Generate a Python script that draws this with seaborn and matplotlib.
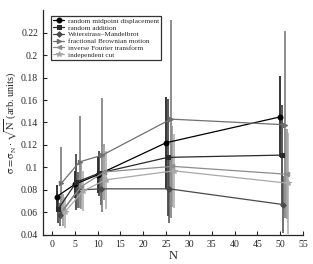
import matplotlib
matplotlib.use("Agg")
import matplotlib.pyplot as plt
import seaborn as sns
import pandas as pd
import numpy as np

sns.set_style("ticks")
plt.rcParams['font.family'] = ['Liberation Serif', 'DejaVu Serif']
plt.rcParams['mathtext.fontset'] = 'stix'

N = [1, 5, 10, 25, 50]
methods = ["random midpoint displacement", "random addition", "Weierstrass\u2013Mandelbrot",
           "fractional Brownian motion", "inverse Fourier transform", "independent cut"]
offsets = [0.0, 0.35, 0.7, 1.05, 1.4, 1.75]

rmd = [0.074, 0.085, 0.0935, 0.122, 0.145]
ra = [0.063, 0.087, 0.095, 0.109, 0.111]
wm = [0.058, 0.080, 0.081, 0.081, 0.067]
fbm = [0.086, 0.105, 0.111, 0.143, 0.138]
ift = [0.062, 0.083, 0.096, 0.101, 0.094]
ic = [0.060, 0.079, 0.089, 0.097, 0.086]

err_rmd = [0.010, 0.012, 0.016, 0.041, 0.036]
err_ra = [0.012, 0.025, 0.020, 0.052, 0.045]
err_wm = [0.010, 0.016, 0.014, 0.030, 0.025]
err_fbm = [0.032, 0.041, 0.051, 0.088, 0.083]
err_ift = [0.014, 0.020, 0.025, 0.036, 0.040]
err_ic = [0.014, 0.018, 0.026, 0.033, 0.045]

values = [rmd, ra, wm, fbm, ift, ic]
errors = [err_rmd, err_ra, err_wm, err_fbm, err_ift, err_ic]
colors = ["#000000", "#2a2a2a", "#4a4a4a", "#707070", "#8c8c8c", "#a8a8a8"]
markers = ["o", "s", "D", ">", "<", "*"]
msizes = [3.5, 2.2, 2.8, 3.2, 3.2, 4.0]

rows = []
for m, off, vals, errs in zip(methods, offsets, values, errors):
    for n, v, e in zip(N, vals, errs):
        rows.append({"method": m, "N": n + off, "sigma": v, "err": e})
df = pd.DataFrame(rows)

fig = plt.figure(figsize=(3.13, 2.64), dpi=100)
ax = fig.add_axes([0.137, 0.110, 0.831, 0.852])

for m, c in zip(methods, colors):
    sub = df[df.method == m]
    ax.errorbar(sub["N"], sub["sigma"], yerr=sub["err"], fmt="none", ecolor=c,
                elinewidth=1.1, capsize=0, zorder=1)

for m, c, mk, ms in zip(methods, colors, markers, msizes):
    sub = df[df.method == m]
    sns.lineplot(data=sub, x="N", y="sigma", ax=ax, color=c, marker=mk,
                 markersize=ms, markeredgecolor=c, linewidth=0.9, label=m,
                 estimator=None, sort=True, zorder=3)

ax.set_xlim(-2, 55)
ax.set_ylim(0.04, 0.24)
ax.set_xticks(np.arange(0, 56, 5))
ax.set_yticks([0.04, 0.06, 0.08, 0.1, 0.12, 0.14, 0.16, 0.18, 0.2, 0.22])
ax.set_yticklabels(["0.04", "0.06", "0.08", "0.1", "0.12", "0.14", "0.16", "0.18", "0.2", "0.22"])
ax.tick_params(direction="in", labelsize=7, length=3, width=0.8)
ax.set_xlabel("N", fontsize=9, labelpad=1)
ax.set_ylabel(r"$\mathrm{\sigma} = \mathrm{\sigma}_\mathrm{N} \cdot \sqrt{\mathrm{N}}$ (arb. units)",
              fontsize=7.5)
ax.yaxis.set_label_coords(-0.092, 0.5)
for s in ["top", "right"]:
    ax.spines[s].set_visible(False)
ax.spines["left"].set_linewidth(0.9)
ax.spines["bottom"].set_linewidth(0.9)

leg = ax.legend(loc="upper left", bbox_to_anchor=(0.03, 0.975), fontsize=5.2, frameon=True,
                fancybox=False, edgecolor="black", handlelength=1.6, borderpad=0.3,
                labelspacing=0.1, handletextpad=0.5, borderaxespad=0)
leg.get_frame().set_linewidth(0.9)

fig.savefig("out.png", dpi=100)
